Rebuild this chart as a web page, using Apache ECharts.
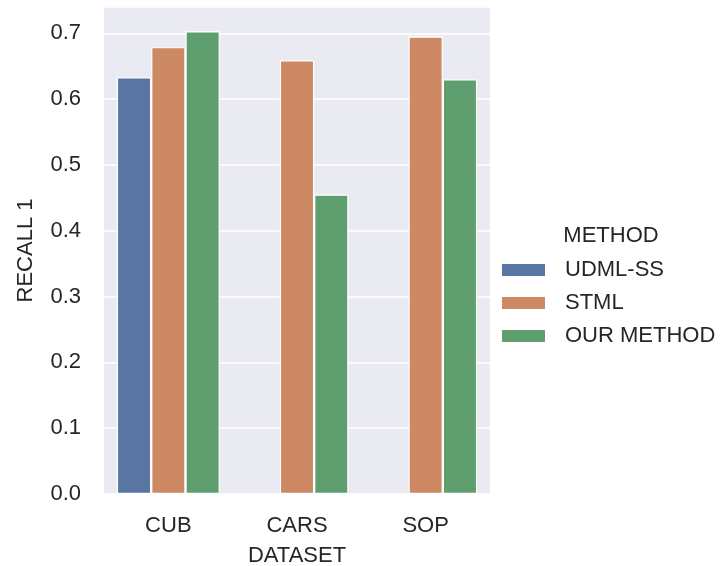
<!DOCTYPE html>
<html>
<head>
<meta charset="utf-8">
<script src="https://cdn.jsdelivr.net/npm/echarts@6/dist/echarts.min.js"></script>
<style>
html,body{margin:0;padding:0;background:#fff;}
#main{width:725px;height:566px;}
</style>
</head>
<body>
<div id="main"></div>
<script>
const categories = ['CUB', 'CARS', 'SOP'];
const seriesNames = ['UDML-SS', 'STML', 'OUR METHOD'];
const udmlss = [0.633, null, null];
const stml = [0.679, 0.659, 0.695];
const ourMethod = [0.703, 0.455, 0.630];
const yTicks = [0, 0.1, 0.2, 0.3, 0.4, 0.5, 0.6, 0.7];
const colors = ['#5975a4', '#cc8963', '#5f9e6e'];

const FONT = '"Liberation Sans", Arial, sans-serif';
const TXT = '#262626';
const values = [udmlss, stml, ourMethod];

const chart = echarts.init(document.getElementById('main'));
chart.setOption({
  animation: false,
  textStyle: { fontFamily: FONT, color: TXT },
  grid: {
    left: 104, right: 235, top: 7, bottom: 72,
    outerBoundsMode: 'none', containLabel: false,
    show: true, backgroundColor: '#eaeaf2', borderWidth: 0
  },
  xAxis: {
    type: 'category',
    data: categories,
    axisLine: { show: false },
    axisTick: { show: false },
    axisLabel: { color: TXT, fontSize: 22, fontFamily: FONT, margin: 21 },
    name: 'DATASET',
    nameLocation: 'middle',
    nameGap: 51,
    nameTextStyle: { color: TXT, fontSize: 22, fontFamily: FONT }
  },
  yAxis: {
    type: 'value',
    min: 0, max: 0.74, interval: 0.1,
    axisLine: { show: false },
    axisTick: { show: false },
    splitLine: { show: true, lineStyle: { color: '#ffffff', width: 1.5 } },
    axisLabel: {
      color: TXT, fontSize: 22, fontFamily: FONT, margin: 23,
      showMaxLabel: false,
      formatter: v => yTicks.some(t => Math.abs(t - v) < 1e-9) ? v.toFixed(1) : ''
    },
    name: 'RECALL 1',
    nameLocation: 'middle',
    nameGap: 67,
    nameTextStyle: { color: TXT, fontSize: 22, fontFamily: FONT }
  },
  legend: {
    orient: 'vertical',
    left: 500, top: 259, padding: 0,
    itemWidth: 45, itemHeight: 14, itemGap: 11,
    icon: 'rect',
    data: seriesNames,
    textStyle: { color: TXT, fontSize: 22, fontFamily: FONT, lineHeight: 22, padding: [0, 0, 0, 14] }
  },
  graphic: [{
    type: 'text', x: 611, y: 236,
    style: { text: 'METHOD', fill: TXT, fontSize: 22, fontFamily: FONT, textAlign: 'center', textVerticalAlign: 'middle' }
  }],
  series: seriesNames.map((n, i) => ({
    name: n,
    type: 'bar',
    data: values[i],
    barGap: '0%',
    barCategoryGap: '20%',
    itemStyle: { color: colors[i], borderColor: '#ffffff', borderWidth: 1.2 }
  }))
});
</script>
</body>
</html>
